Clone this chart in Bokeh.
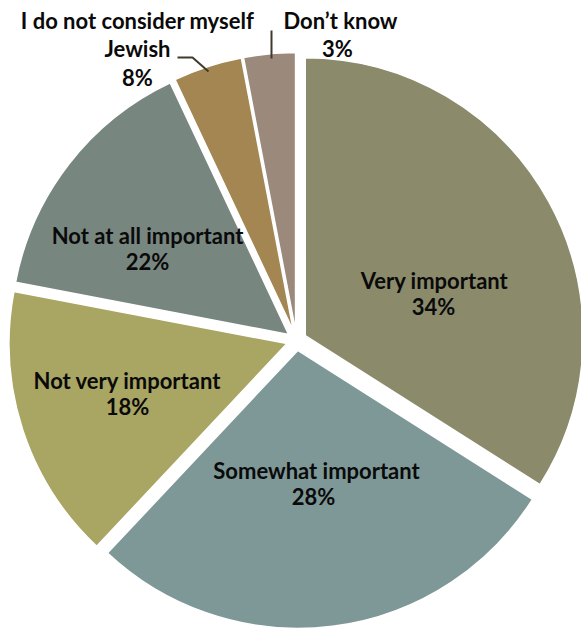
import numpy as np
from bokeh.plotting import figure
from bokeh.models import Range1d
from bokeh.core.properties import value
from bokeh.embed import file_html
from bokeh.resources import INLINE

# ---- data ----
categories = ["Very important", "Somewhat important", "Not very important",
              "Not at all important", "I do not consider myself\nJewish", "Don\u2019t know"]
shares = [34, 28, 16, 15, 4, 3]            # slice sizes as drawn
pct_labels = ["34%", "28%", "18%", "22%", "8%", "3%"]   # printed labels
colors = ["#8B8B6C", "#7E9898", "#A9A563", "#788680", "#A38652", "#9B897C"]

W, H = 581, 628
p = figure(width=W, height=H, x_range=Range1d(0, W), y_range=Range1d(0, H),
           output_backend="svg", toolbar_location=None, min_border=0)
p.axis.visible = False
p.grid.visible = False
p.outline_line_color = None
p.background_fill_color = "white"
p.border_fill_color = "white"

def to_data(X, Y):
    return X, H - Y

frac = np.array(shares, dtype=float) / sum(shares)
cum = np.concatenate([[0.0], np.cumsum(frac)])
start = np.pi / 2 - 2 * np.pi * cum[:-1]
end = np.pi / 2 - 2 * np.pi * cum[1:]
mid = (start + end) / 2
cx, cy = to_data(296, 340)
explode = 10
xs = cx + explode * np.cos(mid)
ys = cy + explode * np.sin(mid)

p.wedge(x=xs, y=ys, radius=278, radius_units="screen",
        start_angle=start, end_angle=end, direction="clock",
        fill_color=colors, line_color="white", line_width=1.5)

# label layout (image coordinates of the text centres)
name_pos = [(434, 280), (316, 470), (127, 380), (147, 235), (137, 34), (340, 20)]
pct_pos = [(433, 306), (313, 496), (127, 406), (147, 261), (137, 77), (337, 48)]

font = value("Lato")
fs = "22px"
for name, pct, (nx, ny), (px, py) in zip(categories, pct_labels, name_pos, pct_pos):
    lines = name.split("\n")
    n = len(lines)
    for i, ln in enumerate(lines):
        x, y = to_data(nx, ny + (i - (n - 1) / 2) * 28)
        p.text(x=[x], y=[y], text=[ln], text_font=font, text_font_style="bold",
               text_font_size=fs, text_align="center", text_baseline="middle",
               text_color="#0A0A0A")
    x, y = to_data(px, py)
    p.text(x=[x], y=[y], text=[pct], text_font=font, text_font_style="bold",
           text_font_size=fs, text_align="center", text_baseline="middle",
           text_color="#0A0A0A")

# leader lines
jl = [to_data(*pt) for pt in [(177, 57), (192, 57), (208, 71)]]
p.line(x=[a for a, b in jl], y=[b for a, b in jl], line_color="#3F3A2A", line_width=2)
dl = [to_data(*pt) for pt in [(271, 30), (271, 58)]]
p.line(x=[a for a, b in dl], y=[b for a, b in dl], line_color="#3F3A2A", line_width=2)

open("out.html", "w").write(file_html(p, INLINE))
